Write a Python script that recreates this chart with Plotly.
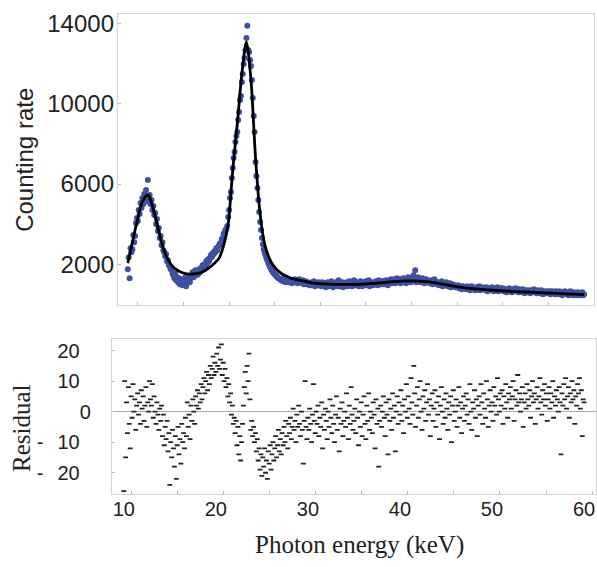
import numpy as np
import plotly.graph_objects as go

# ---------------- data ----------------
# energy grid of the measured spectrum (keV), 0.1 keV channels
energy = np.round(np.linspace(10.0, 60.0, 501), 1)

counts = [
    1750, 2350, 1300, 2800, 2600, 2750, 3450, 3100, 3400, 4050,
    4300, 4150, 4700, 4500, 5050, 4800, 5300, 5000, 5500, 5250,
    5700, 5350, 6200, 5100, 5450, 5000, 5200, 4700, 4900, 4450,
    4550, 4000, 4250, 3650, 3800, 3300, 3400, 2950, 3100, 2700,
    2600, 2400, 2500, 2150, 2200, 1950, 1900, 1750, 1800, 1550,
    1450, 1300, 1550, 1200, 1350, 1100, 1300, 1000, 1250, 1150,
    950, 1200, 1100, 1350, 900, 1250, 1150, 1400, 1100, 1300,
    1450, 1600, 1350, 1550, 1700, 1450, 1650, 1500, 1750, 1600,
    1800, 1700, 1950, 1850, 2000, 1900, 2150, 2050, 2250, 2150,
    2300, 2450, 2350, 2550, 2500, 2650, 2600, 2800, 2700, 2850,
    2950, 3050, 3000, 3250, 3300, 3500, 3550, 3700, 3750, 3900,
    4350, 4700, 5300, 5600, 6300, 6800, 7300, 7600, 8100, 8400,
    8600, 9200, 9600, 10200, 10400, 11100, 11500, 12000, 12300, 12700,
    13300, 13900, 12700, 12600, 12200, 11900, 11200, 10300, 9400, 8600,
    7100, 6400, 5800, 5200, 4600, 4100, 3700, 3300, 3000, 2750,
    2600, 2450, 2300, 2200, 2050, 1950, 1850, 1750, 1700, 1600,
    1550, 1500, 1450, 1400, 1350, 1300, 1300, 1250, 1200, 1250,
    1150, 1250, 1200, 1100, 1250, 1150, 1200, 1100, 1150, 1200,
    1050, 1200, 1150, 1250, 1100, 1200, 1050, 1150, 1250, 1100,
    1150, 1050, 1200, 1000, 1100, 1150, 1000, 1100, 1050, 950,
    1050, 950, 1100, 1000, 1150, 900, 1050, 1000, 950, 1100,
    950, 1050, 900, 1100, 1000, 950, 1050, 850, 1000, 1100,
    900, 1050, 950, 1150, 1000, 850, 1050, 950, 1100, 900,
    1000, 1200, 900, 1050, 950, 1100, 850, 1000, 1050, 950,
    1100, 900, 1000, 1150, 950, 1050, 900, 1000, 1200, 950,
    1050, 950, 1100, 900, 1000, 1150, 1000, 900, 1050, 1100,
    1000, 1150, 950, 1050, 1200, 900, 1050, 1100, 1000, 950,
    1100, 1000, 1150, 1050, 950, 1200, 1050, 1100, 1000, 1150,
    1150, 1000, 1100, 1200, 1050, 950, 1150, 1100, 1250, 1050,
    1100, 1250, 1150, 1050, 1200, 1300, 1100, 1150, 1250, 1050,
    1200, 1100, 1300, 1150, 1250, 1050, 1200, 1350, 1150, 1250,
    1100, 1300, 1200, 1450, 1150, 1700, 1100, 1200, 1350, 1250,
    1200, 1100, 1250, 1300, 1150, 1050, 1200, 1250, 1100, 1150,
    1150, 1050, 1200, 1100, 1000, 1150, 1250, 1050, 1100, 1000,
    1100, 950, 1050, 1000, 1150, 900, 1050, 1000, 950, 1100,
    1000, 900, 950, 1050, 850, 950, 1000, 900, 950, 850,
    900, 850, 950, 800, 900, 850, 750, 900, 800, 850,
    850, 750, 900, 800, 850, 700, 800, 900, 750, 800,
    800, 700, 850, 750, 800, 900, 700, 800, 750, 850,
    750, 800, 700, 850, 650, 750, 800, 700, 750, 850,
    750, 650, 800, 700, 750, 850, 650, 750, 700, 800,
    700, 800, 650, 750, 700, 600, 750, 700, 800, 650,
    700, 600, 750, 650, 700, 800, 650, 700, 600, 750,
    650, 700, 600, 750, 650, 550, 700, 650, 600, 700,
    650, 550, 700, 600, 650, 750, 600, 650, 550, 700,
    600, 650, 550, 700, 600, 500, 650, 600, 550, 650,
    600, 550, 650, 500, 600, 650, 550, 600, 500, 650,
    550, 600, 500, 650, 550, 600, 450, 600, 550, 650,
    550, 500, 600, 450, 550, 650, 500, 550, 450, 600,
    550, 450, 550, 600, 500, 450, 550, 500, 600, 450,
    500,
]

fit_energy = [10, 10.5, 11, 11.5, 12, 12.25, 12.5, 13, 13.5, 14, 14.5, 15, 15.5,
              16, 16.5, 17, 17.5, 18, 18.5, 19, 19.5, 20, 20.5, 21, 21.5, 22,
              22.5, 23, 23.5, 24, 24.5, 25, 25.5, 26, 26.5, 27, 27.5, 28, 29,
              30, 31, 32, 33, 34, 35, 36, 37, 38, 39, 40, 41, 42, 43, 44, 45,
              46, 47, 48, 49, 50, 51, 52, 53, 54, 55, 56, 57, 58, 59, 60]
fit_counts = [2050, 3100, 4100, 5000, 5400, 5450, 5200, 4400, 3450, 2650, 2150,
              1850, 1680, 1570, 1510, 1500, 1525, 1580, 1680, 1850, 2050, 2300,
              2920, 4000, 6700, 9000, 11500, 13100, 11200, 7300, 4500, 3000,
              2300, 1900, 1650, 1480, 1380, 1280, 1180, 1080, 1030, 1000, 990,
              990, 995, 1010, 1040, 1080, 1120, 1150, 1160, 1150, 1110, 1040,
              960, 880, 820, 770, 730, 700, 670, 640, 620, 600, 580, 560, 540,
              520, 500, 480]

residual = [
    -26, 10, -15, 3, -7, 8, -4, -12, 5, -2,
    9, 0, 4, -6, 2, 6, -1, 3, -4, 7,
    1, 5, -3, 2, 8, -5, 3, 0, 10, 4,
    2, 9, -2, 5, 0, -4, 3, -1, -6, 1,
    -3, 2, -8, -1, -11, -5, -9, -3, -13, -7,
    -24, -10, -15, -6, -12, -18, -8, -22, -11, -5,
    -14, -9, -17, -4, -10, -7, -12, -2, -8, 3,
    -5, -1, -9, 2, -3, 4, 0, -4, 5, 2,
    7, 1, 6, 3, 9, 4, 8, 11, 6, 10,
    13, 7, 12, 9, 15, 11, 14, 18, 12, 16,
    13, 19, 15, 21, 14, 17, 22, 12, 16, 10,
    14, 8, 11, 5, 9, 3, 6, -1, 2, -4,
    -2, -7, -3, -11, -5, -14, -8, -16, -10, -4,
    2, 8, 13, 6, 15, 10, 19, 4, -6, -3,
    -8, -5, -10, -7, -13, -9, -16, -12, -19, -14,
    -21, -15, -18, -12, -20, -16, -22, -13, -17, -11,
    -19, -14, -10, -16, -12, -8, -15, -11, -6, -13,
    -9, -14, -7, -11, -5, -10, -3, -8, -12, -4,
    -7, -2, -9, -5, 1, -6, -3, -10, -1, -5,
    2, -4, -8, 0, -6, -17, -3, 10, -5, -9,
    -2, -6, 1, -4, -10, -1, 9, -3, -7, 0,
    -4, 2, -8, -2, -5, 3, -12, -1, -6, 1,
    -3, -9, 0, -5, 4, -2, -7, 2, -4, -10,
    -1, 5, -6, -2, -13, 1, -4, 3, -8, -3,
    0, -5, 6, -2, -9, 2, -4, 8, -1, -6,
    -3, 1, -7, 4, -2, -11, 0, -5, 3, -8,
    -1, 5, -4, -9, 2, -3, 6, -6, 0, -2,
    -7, 3, -1, -12, 4, -4, 1, -18, -3, 2,
    -5, 0, 5, -2, -8, 3, -1, -14, 4, -3,
    1, -6, 6, -2, 2, -13, 0, 5, -4, 3,
    -1, 7, -3, 2, -7, 4, 0, 9, -2, 5,
    1, -4, 11, 3, -1, 15, 6, -5, 2, 8,
    -2, 4, 10, 0, -6, 5, 1, 7, -3, 3,
    9, -1, 4, -8, 2, 6, -3, 1, 7, -5,
    3, -1, 5, -9, 2, 8, 0, -4, 4, -2,
    6, 1, -6, 3, -1, 5, -10, 2, 7, -3,
    0, 4, -5, 2, 8, -2, 3, -7, 1, 5,
    -3, 2, 6, -1, 4, -4, 9, 0, -6, 3,
    1, 7, -2, 4, -8, 2, 5, -1, 9, 3,
    -4, 6, 1, -2, 10, 4, -5, 2, 7, 0,
    3, -3, 8, 2, 5, -1, 11, 4, 0, 6,
    2, 7, -4, 5, 1, 9, 3, -2, 6, 4,
    8, 1, 5, 10, -3, 4, 7, 2, 12, 3,
    6, 0, 4, 8, -5, 3, 6, 1, 9, 4,
    2, 7, -2, 5, 10, 3, 6, -4, 4, 8,
    1, 5, 11, 3, -1, 7, 4, 9, 2, 6,
    -3, 4, 8, 1, 6, 3, 10, -2, 5, 2,
    7, 4, 0, 8, 3, -14, 6, 2, 9, 4,
    11, 1, 5, 8, -2, 6, 3, 10, 4, 7,
    -4, 5, 2, 9, 6, 11, 1, 7, -8, 4,
    3,
]

count_ticks = [2000, 6000, 10000, 14000]
count_ticktext = ["2000", "6000", "10000", "14000"]
res_ticks = [-20, -10, 0, 10, 20]
res_ticktext = ["-\u2002\u200920\u2007", "-\u2002\u200910\u2007", "0",
                "10\u2007", "20\u2007"]
energy_ticks = [10, 20, 30, 40, 50, 60]
energy_ticktext = ["10", "20", "30", "40", "50", "60"]

# ---------------- figure ----------------
W, H = 597, 567
SANS = "Liberation Sans, Arial, sans-serif"
SERIF = "Liberation Serif, Times New Roman, serif"
FRAME = "#d4d4d4"

fig = go.Figure()
fig.add_trace(go.Scatter(
    x=energy, y=counts, mode="markers", xaxis="x", yaxis="y",
    marker=dict(color="#3d51a0", size=6, line=dict(width=0)),
    showlegend=False, hoverinfo="skip"))
fig.add_trace(go.Scatter(
    x=fit_energy, y=fit_counts, mode="lines", xaxis="x", yaxis="y",
    line=dict(color="black", width=2.8, shape="spline", smoothing=0.8),
    showlegend=False, hoverinfo="skip"))
fig.add_trace(go.Scatter(
    x=energy, y=residual, mode="markers", xaxis="x2", yaxis="y2",
    marker=dict(symbol="line-ew", size=3.5, color="#222",
                line=dict(width=1.8, color="#222")),
    showlegend=False, hoverinfo="skip"))

def px_x(p):
    return p / W

def px_y(p):
    return 1 - p / H

fig.update_layout(
    width=W, height=H,
    margin=dict(l=0, r=0, t=0, b=0),
    paper_bgcolor="white", plot_bgcolor="white",
    font=dict(family=SANS, color="#222"),
    xaxis=dict(domain=[px_x(118), px_x(595)], anchor="y",
               range=[8.906, 61.09], showgrid=False, zeroline=False,
               showline=True, mirror=True, linecolor=FRAME, linewidth=1,
               ticks="inside", ticklen=3, tickcolor="#bbbbbb",
               tick0=1.1, dtick=5, showticklabels=False),
    yaxis=dict(domain=[px_y(303), px_y(10)], anchor="x",
               range=[-33, 14496], showgrid=False, zeroline=False,
               showline=True, mirror=True, linecolor=FRAME, linewidth=1,
               ticks="inside", ticklen=3, tickcolor="#bbbbbb",
               tickmode="array", tickvals=count_ticks, ticktext=count_ticktext,
               ticklabelstandoff=-2,
               tickfont=dict(family=SANS, size=24, color="#222")),
    xaxis2=dict(domain=[px_x(112), 1.0], anchor="y2",
                range=[8.70, 61.30], showgrid=False, zeroline=False,
                showline=True, mirror=True, linecolor=FRAME, linewidth=1,
                ticks="", tickmode="array", tickvals=energy_ticks,
                ticktext=energy_ticktext, ticklabelstandoff=-3,
                minor=dict(ticks="inside", ticklen=3, tickcolor="#bbbbbb",
                           tick0=0.87, dtick=5),
                tickfont=dict(family=SANS, size=20, color="#222")),
    yaxis2=dict(domain=[px_y(493), px_y(337)], anchor="x2",
                range=[-26.8, 23.9], showgrid=False,
                zeroline=True, zerolinecolor="#aaaaaa", zerolinewidth=1,
                showline=True, mirror=True, linecolor=FRAME, linewidth=1,
                ticks="inside", ticklen=3, tickcolor="#bbbbbb",
                tickmode="array", tickvals=res_ticks, ticktext=res_ticktext,
                ticklabelstandoff=16,
                tickfont=dict(family=SANS, size=20, color="#222")),
    annotations=[
        dict(text="Counting rate", x=px_x(25), y=px_y(157), xref="paper",
             yref="paper", textangle=-90, showarrow=False,
             xanchor="center", yanchor="middle",
             font=dict(family=SANS, size=24, color="#222")),
        dict(text="Residual", x=px_x(22), y=px_y(427), xref="paper",
             yref="paper", textangle=-90, showarrow=False,
             xanchor="center", yanchor="middle",
             font=dict(family=SERIF, size=25, color="#222")),
        dict(text="Photon energy (keV)", x=px_x(360), y=px_y(545),
             xref="paper", yref="paper", showarrow=False,
             xanchor="center", yanchor="middle",
             font=dict(family=SERIF, size=25, color="#222")),
    ],
)

fig.write_html("out.html")
